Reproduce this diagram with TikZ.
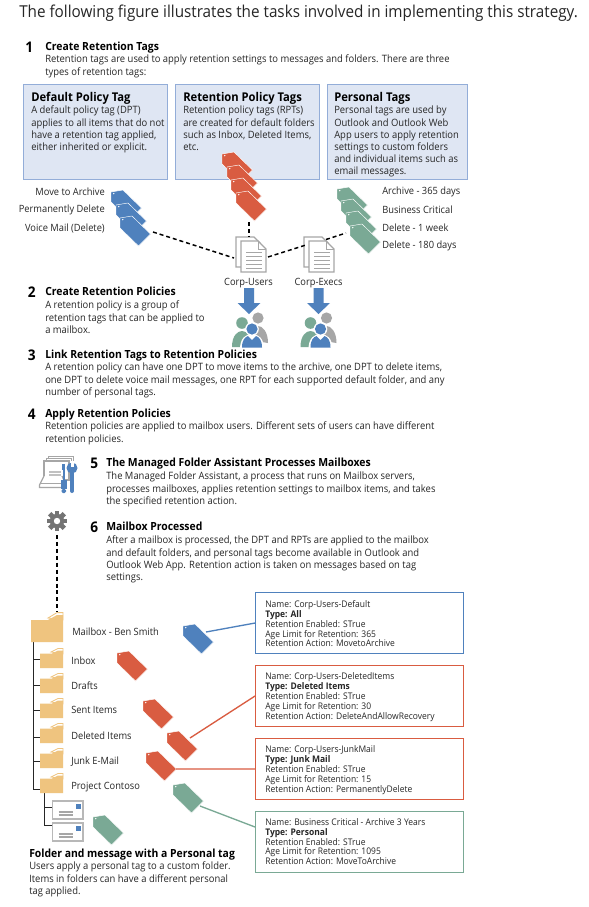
\documentclass[tikz,border=0pt]{standalone}
\usepackage{fontspec}
\setmainfont[FakeStretch=0.93]{Open Sans}
\definecolor{tb}{HTML}{4F81BD}
\definecolor{tr}{HTML}{D95C41}
\definecolor{tg}{HTML}{7AA995}
\definecolor{fo}{HTML}{EFC47F}
\definecolor{bx}{HTML}{DFE6F3}
\definecolor{bxe}{HTML}{93ADD8}
\definecolor{gy}{HTML}{A6A6A6}
\definecolor{ink}{HTML}{262626}
\tikzset{
 txt/.style={anchor=north west,inner sep=0pt,align=left,text=ink,yshift=-1.1pt,font=\fontsize{7.6}{9.1}\selectfont},
 hd/.style={anchor=north west,inner sep=0pt,text=black,yshift=-.5pt,font=\fontsize{8.4}{9}\selectfont\bfseries},
 boxhd/.style={anchor=north west,inner sep=0pt,text=black,yshift=-1.4pt,font=\fontsize{9.05}{10}\selectfont\bfseries},
 num/.style={anchor=north west,inner sep=0pt,text=black,yshift=-1.2pt,font=\fontsize{11}{11}\selectfont\bfseries},
 lab/.style={inner sep=0pt,text=ink,yshift=-.6pt,font=\fontsize{7.5}{9}\selectfont},
 small/.style={anchor=north west,inner sep=0pt,align=left,text=ink,yshift=-1.1pt,font=\fontsize{6.85}{7.45}\selectfont},
 defbox/.style={draw=bxe,fill=bx,line width=.8pt,inner sep=0pt,anchor=north west},
 infobox/.style={draw=#1,fill=white,line width=.8pt,inner sep=0pt,anchor=north west,minimum width=156pt,minimum height=45.75pt},
 dash1/.style={line width=1.1pt,dash pattern=on 3pt off 2.2pt,black},
 link/.style={line width=1pt,#1},
 tree/.style={line width=.75pt,ink}
}
\newcommand{\tagicon}[3]{\begin{scope}[shift={(#1,#2)}]
 \path[fill=#3,draw=white,line width=.35pt,line join=round] (0,2)--(12,0)--(30.5,18)--(18.5,30)--(0,12)--cycle;
 \fill[white] (2.7,3.6) circle (.8);
\end{scope}}
\newcommand{\folderbig}[2]{\begin{scope}[shift={(#1,#2)}]
 \path[fill=white,draw=fo,line width=.6pt] (17,6)--(26,.6)--(32,.6)--(32,8)--cycle;
 \fill[fo] (0,8)--(17,8)--(26,3)--(32,3)--(32,30)--(0,30)--cycle;
\end{scope}}
\newcommand{\foldersmall}[2]{\begin{scope}[shift={(#1,#2)}]
 \path[fill=white,draw=fo,line width=.6pt] (11,4)--(18,.5)--(23,.5)--(23,6)--cycle;
 \fill[fo] (0,5.5)--(12,5.5)--(18,2.5)--(23,2.5)--(23,20)--(0,20)--cycle;
\end{scope}}
\newcommand{\docicon}[2]{\begin{scope}[shift={(#1,#2)}]
 \draw[gy,line width=.9pt,fill=white] (-5,-4)--(13,-4)--(19,2)--(19,26)--(-5,26)--cycle;
 \draw[gy,line width=.9pt,fill=white] (0,0)--(17,0)--(25,8)--(25,31)--(0,31)--cycle;
 \draw[gy,line width=.7pt] (17,0)--(17,8)--(25,8);
 \foreach \q in {11,15,19,23,27}{\draw[gy,line width=.7pt] (5,\q)--(21,\q);}
\end{scope}}
\newcommand{\arrowdown}[1]{\begin{scope}[shift={(#1,288)}]
 \fill[tb] (-5,0)--(5,0)--(5,15)--(11.5,15)--(0,26)--(-11.5,15)--(-5,15)--cycle;
\end{scope}}
\newcommand{\people}[1]{\begin{scope}[shift={(#1,0)}]
 \fill[tg] (242,323) circle (5.8);
 \fill[tg] (232,347) .. controls (232,335) and (238,331) .. (242,331) .. controls (246,331) and (252,335) .. (252,347) -- cycle;
 \fill[gy] (258,318) circle (5.6);
 \fill[gy] (249,340) .. controls (249,330) and (254,326) .. (258,326) .. controls (262,326) and (268,331) .. (268,343) -- cycle;
 \fill[white] (252,329) circle (6.8);
 \fill[white] (240,349) .. controls (240,338) and (246,334) .. (252,334) .. controls (258,334) and (264,338) .. (264,349) -- cycle;
 \fill[tb] (252,329) circle (5.6);
 \fill[tb] (242,347.5) .. controls (242,340) and (245,337) .. (248,336) -- (252,340) -- (256,336) .. controls (259,337) and (262,340) .. (262,347.5) -- cycle;
\end{scope}}
\newcommand{\envel}[2]{\begin{scope}[shift={(#1,#2)}]
 \draw[gy!80,line width=.9pt,fill=white] (0,0) rectangle (30.5,18);
 \fill[tb] (23.5,2.5) rectangle (28,8);
 \draw[gy,line width=.8pt] (6,11)--(20,11) (6,14)--(20,14);
\end{scope}}
\begin{document}
\begin{tikzpicture}[x=0.75pt,y=-0.75pt]
\useasboundingbox (0,0) rectangle (589,907);
\fill[white] (0,0) rectangle (589,907);
\node[anchor=north west,inner sep=0pt,text=ink,font=\fontsize{12.3}{14}\selectfont] (title) at (19,5) {The following figure illustrates the tasks involved in implementing this strategy.};

% step 1
\node[num] (n1) at (25,40) {1};
\node[hd] (h1) at (45,41.5) {Create Retention Tags};
\node[txt] (b1) at (45,53.5) {Retention tags are used to apply retention settings to messages and folders. There are three\\types of retention tags:};

% definition boxes
\node[defbox,minimum width=108pt,minimum height=71.25pt] (boxDPT) at (23,84) {};
\node[defbox,minimum width=108pt,minimum height=71.25pt] (boxRPT) at (175,84) {};
\node[defbox,minimum width=105pt,minimum height=71.25pt] (boxPT) at (327,84) {};
\node[boxhd] (dptH) at (31,90) {Default Policy Tag};
\node[txt] (dptT) at (31,104.5) {A default policy tag (DPT)\\applies to all items that do not\\have a retention tag applied,\\either inherited or explicit.};
\node[boxhd] (rptH) at (183,90) {Retention Policy Tags};
\node[txt] (rptT) at (183,104.5) {Retention policy tags (RPTs)\\are created for default folders\\such as Inbox, Deleted Items,\\etc.};
\node[boxhd] (ptH) at (334,90) {Personal Tags};
\node[txt] (ptT) at (334,104.5) {Personal tags are used by\\Outlook and Outlook Web\\App users to apply retention\\settings to custom folders\\and individual items such as\\email messages.};

% tag stacks
\tagicon{222}{152}{tr}\tagicon{227}{165}{tr}\tagicon{231}{178}{tr}\tagicon{236}{191}{tr}
\tagicon{111}{190}{tb}\tagicon{116}{203}{tb}\tagicon{120}{216}{tb}
\tagicon{337}{187}{tg}\tagicon{341}{199}{tg}\tagicon{346}{211}{tg}\tagicon{350}{224}{tg}
\node[lab,anchor=east] (l1) at (105,191) {Move to Archive};
\node[lab,anchor=east] (l2) at (105,209.5) {Permanently Delete};
\node[lab,anchor=east] (l3) at (105,227.5) {Voice Mail (Delete)};
\node[lab,anchor=west] (r1) at (382,191) {Archive - 365 days};
\node[lab,anchor=west] (r2) at (382,209) {Business Critical};
\node[lab,anchor=west] (r3) at (382,227) {Delete - 1 week};
\node[lab,anchor=west] (r4) at (382,245) {Delete - 180 days};

% documents
\docicon{241}{241}
\docicon{309}{241}
\coordinate (tagBlue) at (153,232);
\coordinate (tagRed) at (249,222);
\coordinate (tagGreen) at (346,233);
\coordinate (docUL) at (234,258);
\coordinate (docUT) at (249,236);
\coordinate (docUR) at (268,257);
\draw[dash1] (tagBlue)--(docUL);
\draw[dash1] (tagRed)--(docUT);
\draw[dash1] (docUR)--(306,245);
\draw[dash1] (326,239.5)--(tagGreen);
\node[lab] (cu) at (248.5,282) {Corp-Users};
\node[lab] (ce) at (318.5,282) {Corp-Execs};
\arrowdown{249}\arrowdown{318.5}
\people{0}\people{68.5}

% steps
\node[num] (n2) at (27.5,285) {2};
\node[hd] (h2) at (45,286.5) {Create Retention Policies};
\node[txt] (b2) at (45,299.5) {A retention policy is a group of\\retention tags that can be applied to\\a mailbox.};
\node[num] (n3) at (27.5,348) {3};
\node[hd] (h3) at (45,349.5) {Link Retention Tags to Retention Policies};
\node[txt] (b3) at (45,361.5) {A retention policy can have one DPT to move items to the archive, one DPT to delete items,\\one DPT to delete voice mail messages, one RPT for each supported default folder, and any\\number of personal tags.};
\node[num] (n4) at (27.5,407) {4};
\node[hd] (h4) at (45,408.5) {Apply Retention Policies};
\node[txt] (b4) at (45,420.5) {Retention policies are applied to mailbox users. Different sets of users can have different\\retention policies.};
\node[num] (n5) at (90,456) {5};
\node[hd] (h5) at (106,457.5) {The Managed Folder Assistant Processes Mailboxes};
\node[txt] (b5) at (106,470.5) {The Managed Folder Assistant, a process that runs on Mailbox servers,\\processes mailboxes, applies retention settings to mailbox items, and takes\\the specified retention action.};
\node[num] (n6) at (90,520) {6};
\node[hd] (h6) at (106,521.5) {Mailbox Processed};
\node[txt] (b6) at (106,534.5) {After a mailbox is processed, the DPT and RPTs are applied to the mailbox\\and default folders, and personal tags become available in Outlook and\\Outlook Web App. Retention action is taken on messages based on tag\\settings.};

% assistant icon
\draw[gy,line width=.7pt,fill=white] (48,456.5) rectangle (73,476);
\draw[gy,line width=.7pt,fill=white] (46,458.5) rectangle (71,478);
\draw[gy,line width=.9pt,fill=white] (44,461) rectangle (69,480);
\draw[gy!70,line width=.9pt] (49,472)--(61,472) (49,475)--(61,475);
\draw[gy,line width=.9pt,fill=white] (44,476)--(39.5,485)--(39.5,487.5)--(66,487.5)--(66,485)--(62,476);
\draw[gy,line width=.9pt] (39.5,483.5)--(66,483.5);
\fill[tb] (62,464) rectangle (65,470);
\fill[tb] (62.5,470) rectangle (65,480);
\fill[tb] (60.5,480) rectangle (67,489);
\fill[tb,rounded corners=1pt] (61.5,489) rectangle (66,493);
\fill[tb] (72,468) circle (5.5);
\fill[white] (70.5,461) rectangle (73.5,467);
\fill[tb] (70,472) rectangle (74,491);
\fill[tb] (72,491) circle (2);

% gear
\fill[gy!55!black!85] (57,521) circle (7.2);
\foreach \a in {0,45,...,315}{\fill[gy!55!black!85,rotate around={\a:(57,521)}] (54.6,510.6) rectangle (59.4,516);}
\fill[white] (57,521) circle (3.2);
\coordinate (gearEnd) at (57,535);
\coordinate (mailTop) at (57,612);
\draw[dash1] (gearEnd)--(mailTop);

% tree
\draw[tree] (33,642)--(33,789)--(40,789);
\foreach \q in {659,685,710,737,761}{\draw[tree] (33,\q)--(40,\q);}
\draw[tree] (44,793)--(44,825)--(52,825);
\draw[tree] (44,807)--(52,807);
\folderbig{31}{612}
\foldersmall{40}{648}\foldersmall{40}{673}\foldersmall{40}{698}\foldersmall{40}{723}\foldersmall{40}{748}\foldersmall{40}{773}
\envel{52.5}{801}\envel{52.5}{823}
\node[lab,anchor=west] (mb) at (72,631) {Mailbox - Ben Smith};
\node[lab,anchor=west] (f1) at (71,659.5) {Inbox};
\node[lab,anchor=west] (f2) at (71,685) {Drafts};
\node[lab,anchor=west] (f3) at (71,709.5) {Sent Items};
\node[lab,anchor=west] (f4) at (71,735) {Deleted Items};
\node[lab,anchor=west] (f5) at (71,761) {Junk E-Mail};
\node[lab,anchor=west] (f6) at (71,786) {Project Contoso};

% folder tags
\tagicon{183}{624}{tb}
\tagicon{117}{651}{tr}
\tagicon{143}{699}{tr}
\tagicon{167}{731}{tr}
\tagicon{146}{751}{tr}
\tagicon{173}{783}{tg}
\tagicon{93}{815}{tg}

% info boxes
\node[infobox=tb] (i1) at (255,592) {};
\node[infobox=tr] (i2) at (255,665) {};
\node[infobox=tr] (i3) at (255,738) {};
\node[infobox=tg] (i4) at (255,811) {};
\node[small] (t1) at (265,598.5) {Name: Corp-Users-Default\\\textbf{Type: All}\\Retention Enabled: STrue\\Age Limit for Retention: 365\\Retention Action: MovetoArchive};
\node[small] (t2) at (265,671) {Name: Corp-Users-DeletedItems\\\textbf{Type: Deleted Items}\\Retention Enabled: STrue\\Age Limit for Retention: 30\\Retention Action: DeleteAndAllowRecovery};
\node[small] (t3) at (265,744) {Name: Corp-Users-JunkMail\\\textbf{Type: Junk Mail}\\Retention Enabled: STrue\\Age Limit for Retention: 15\\Retention Action: PermanentlyDelete};
\node[small] (t4) at (265,816.5) {Name: Business Critical - Archive 3 Years\\\textbf{Type: Personal}\\Retention Enabled: STrue\\Age Limit for Retention: 1095\\Retention Action: MoveToArchive};

\coordinate (e1) at (206,632);
\coordinate (e2) at (190,738);
\coordinate (e3) at (176,769);
\coordinate (e4) at (200,806);
\coordinate (i4w) at (255,827);
\draw[link=tb] (e1)--(i1.west);
\draw[link=tr] (e2)--(i2.west);
\draw[link=tr] (e3)--(i3.west);
\draw[link=tg] (e4)--(i4w);

% footer
\node[hd] (fh) at (29,848) {Folder and message with a Personal tag};
\node[txt] (ft) at (29,860.5) {Users apply a personal tag to a custom folder.\\Items in folders can have a different personal\\tag applied.};
\end{tikzpicture}
\end{document}
